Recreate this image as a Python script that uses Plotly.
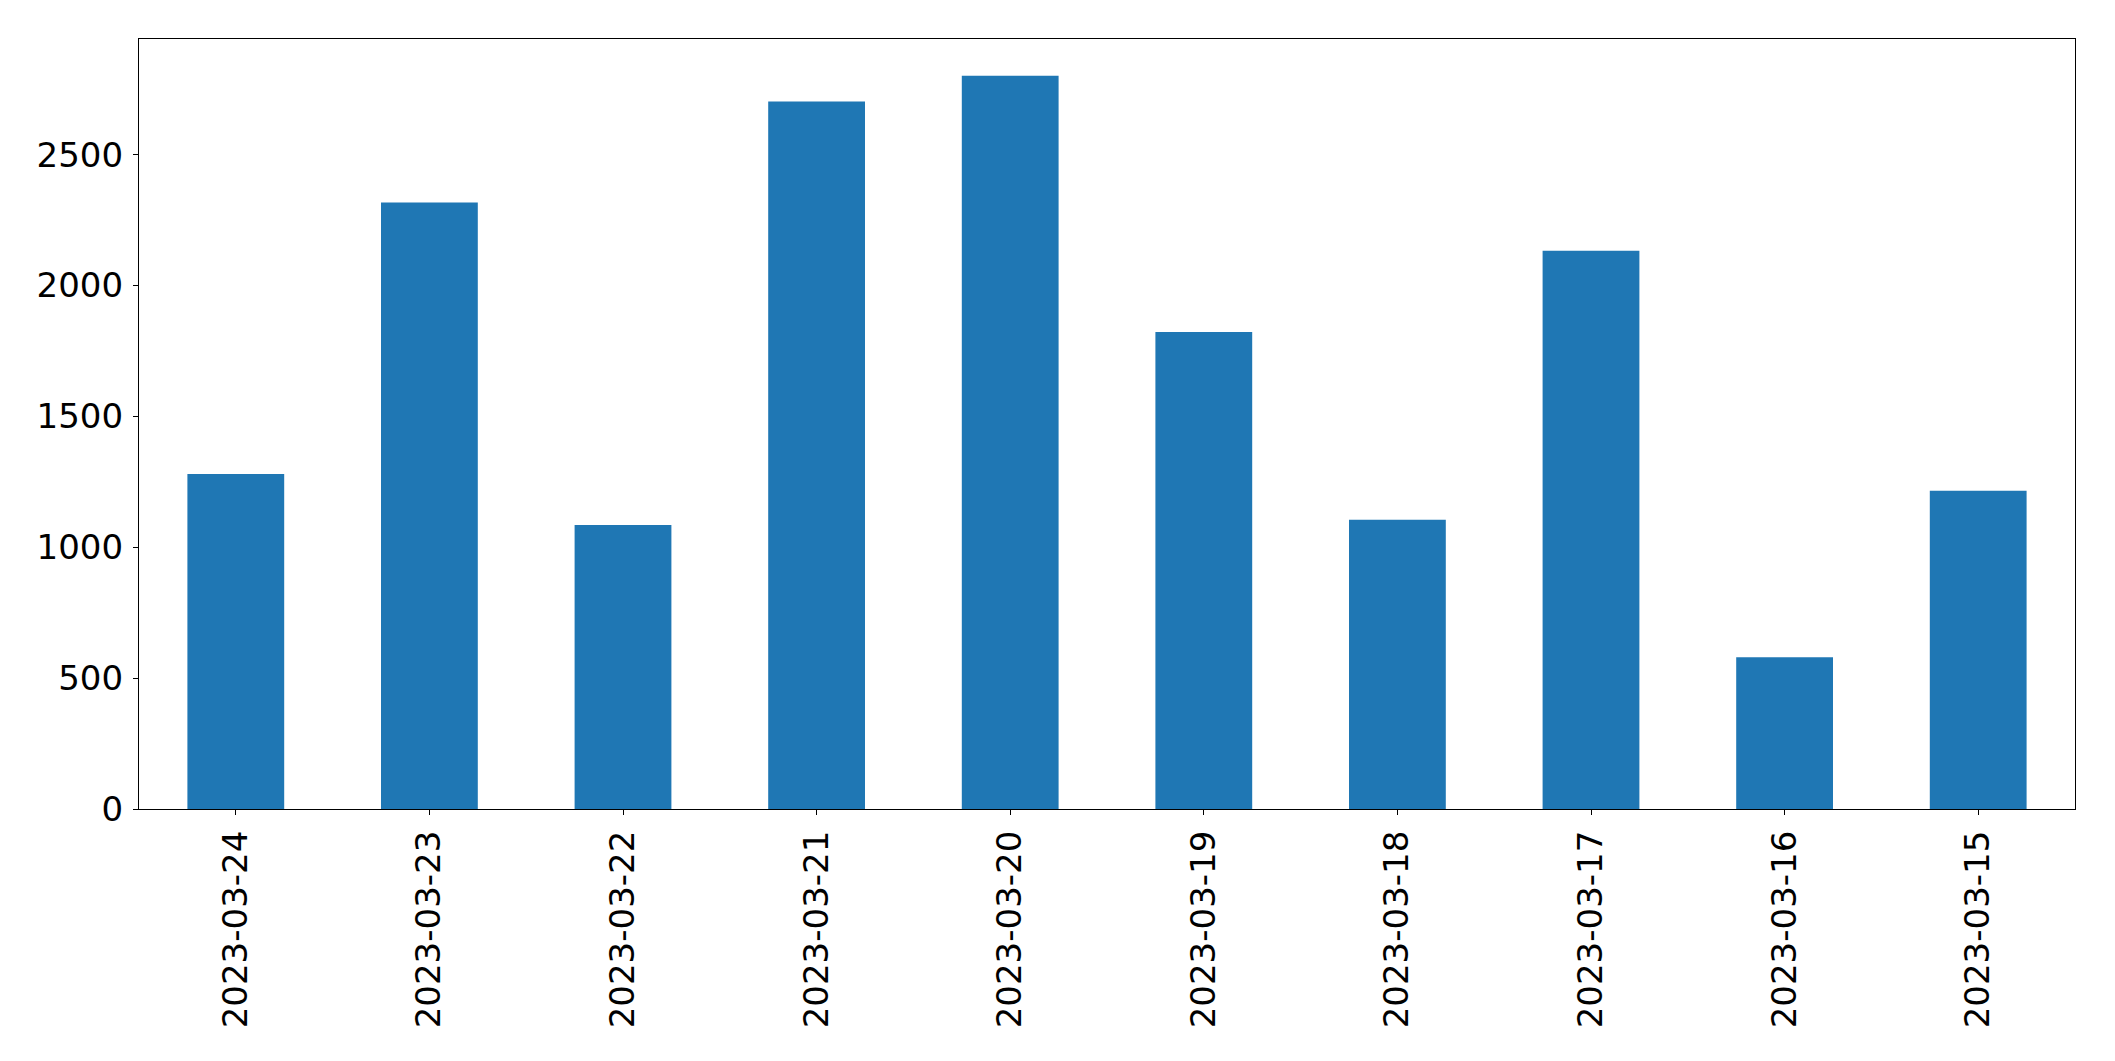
import plotly.graph_objects as go

dates = ["2023-03-24", "2023-03-23", "2023-03-22", "2023-03-21", "2023-03-20",
         "2023-03-19", "2023-03-18", "2023-03-17", "2023-03-16", "2023-03-15"]
values = [1280, 2317, 1085, 2703, 2802, 1823, 1105, 2133, 580, 1216]
y_ticks = [0, 500, 1000, 1500, 2000, 2500]

fig = go.Figure(go.Bar(x=dates, y=values, width=0.5, marker=dict(color="#1f77b4", line=dict(width=0))))

font = dict(family="DejaVu Sans", size=34, color="black")
fig.update_layout(
    width=2115, height=1061,
    margin=dict(l=139, r=40, t=39, b=252),
    paper_bgcolor="white", plot_bgcolor="white",
    font=font, showlegend=False,
)
fig.update_xaxes(
    type="category", categoryorder="array", categoryarray=dates,
    range=[-0.5, len(dates) - 0.5],
    showline=True, linecolor="black", linewidth=1.2, mirror=True,
    ticks="outside", ticklen=5, tickwidth=1.2, tickcolor="black",
    tickangle=-90, showgrid=False, zeroline=False, tickfont=font,
    ticklabelstandoff=2,
)
fig.update_yaxes(
    range=[0, max(values) * 1.05],
    tickvals=y_ticks, ticktext=[str(t) for t in y_ticks],
    showline=True, linecolor="black", linewidth=1.2, mirror=True,
    ticks="outside", ticklen=5, tickwidth=1.2, tickcolor="black",
    showgrid=False, zeroline=False, tickfont=font,
    ticklabelstandoff=3,
)
fig.write_html("out.html")
